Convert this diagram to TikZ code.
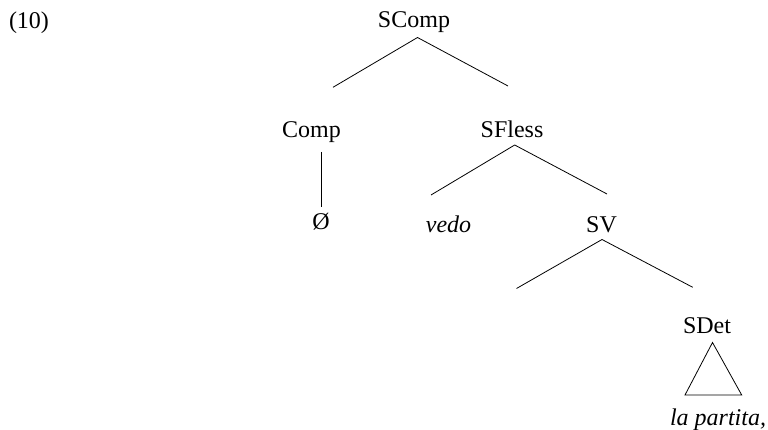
\documentclass[tikz,border=0pt]{standalone}
\usepackage{fontspec}
\setmainfont{Liberation Serif}
\begin{document}
\begin{tikzpicture}[x=1pt,y=-1pt,
  lab/.style={anchor=base,inner sep=0pt,font=\fontsize{24}{28}\selectfont},
  ilab/.style={lab,font=\fontsize{24}{28}\selectfont\itshape},
  edge/.style={line width=0.8pt,black}]
\useasboundingbox (0,0) rectangle (768,430);
% labels
\node[lab] (ex) at (29,29) {(10)};
\node[lab] (scomp) at (414,28) {SComp};
\node[lab] (comp) at (311.5,138) {Comp};
\node[lab] (sfless) at (512,138) {SFless};
\node[lab] (empty) at (321,230) {Ø};
\node[ilab] (vedo) at (448.5,233) {vedo};
\node[lab] (sv) at (601.5,233) {SV};
\node[lab] (sdet) at (707,333) {SDet};
\node[ilab] (lapartita) at (718,425) {la partita,};
% branch points
\coordinate (a1) at (417.5,37.5);
\coordinate (a1l) at (333,87.3);
\coordinate (a1r) at (508,86);
\coordinate (c1) at (321,152);
\coordinate (c2) at (321,207);
\coordinate (a2) at (514.7,145);
\coordinate (a2l) at (431,195);
\coordinate (a2r) at (607,194);
\coordinate (a3) at (602,239.5);
\coordinate (a3l) at (516.5,288.5);
\coordinate (a3r) at (692.7,287.3);
\coordinate (t1) at (712.5,342.5);
\coordinate (t2) at (685,395);
\coordinate (t3) at (741.7,395);
% branches
\draw[edge] (a1l) -- (a1) -- (a1r);
\draw[edge] (c1) -- (c2);
\draw[edge] (a2l) -- (a2) -- (a2r);
\draw[edge] (a3l) -- (a3) -- (a3r);
\draw[edge] (t1) -- (t2) -- (t3) -- cycle;
\end{tikzpicture}
\end{document}
